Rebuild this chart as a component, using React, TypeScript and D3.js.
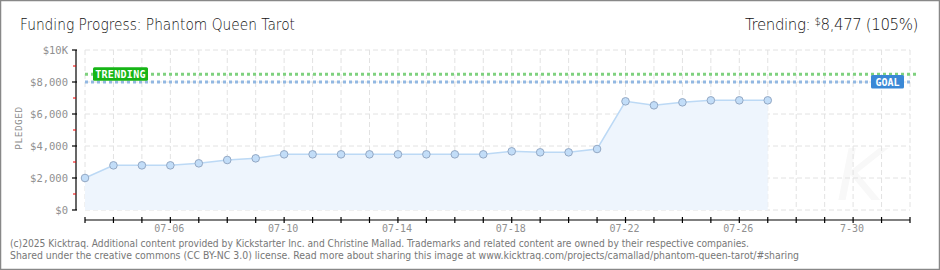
import React from "react";
import * as d3 from "d3";

const dates = ["2025-07-03","2025-07-04","2025-07-05","2025-07-06","2025-07-07","2025-07-08","2025-07-09","2025-07-10","2025-07-11","2025-07-12","2025-07-13","2025-07-14","2025-07-15","2025-07-16","2025-07-17","2025-07-18","2025-07-19","2025-07-20","2025-07-21","2025-07-22","2025-07-23","2025-07-24","2025-07-25","2025-07-26","2025-07-27"];
const pledged = [2000,2790,2790,2790,2917,3125,3229,3479,3479,3479,3479,3479,3479,3479,3479,3667,3604,3604,3812,6792,6542,6729,6854,6854,6854];
const goal = 8000;
const trending = 8477;
const yTicks = [0,2000,4000,6000,8000,10000];
const yTickLabels = ["$0","$2,000","$4,000","$6,000","$8,000","$10K"];
const xLabelDates = ["2025-07-06","2025-07-10","2025-07-14","2025-07-18","2025-07-22","2025-07-26","2025-07-30"];
const xLabels = ["07-06","07-10","07-14","07-18","07-22","07-26","7-30"];
const domainStart = "2025-07-03";
const domainEnd = "2025-08-01";
const title = "Funding Progress: Phantom Queen Tarot";
const footer1 = "(c)2025 Kicktraq. Additional content provided by Kickstarter Inc. and Christine Mallad. Trademarks and related content are owned by their respective companies.";
const footer2 = "Shared under the creative commons (CC BY-NC 3.0) license. Read more about sharing this image at www.kicktraq.com/projects/camallad/phantom-queen-tarot/#sharing";

const pd = (s: string) => new Date(s + "T00:00:00Z");

export default function App() {
  const W = 940, H = 270;
  const x = d3.scaleUtc().domain([pd(domainStart), pd(domainEnd)]).range([85, 910]);
  const y = d3.scaleLinear().domain([0, 10000]).range([210, 50]);
  const data = dates.map((d, i) => ({ d: pd(d), v: pledged[i] }));
  const line = d3.line<any>().x(p => x(p.d)).y(p => y(p.v));
  const area = d3.area<any>().x(p => x(p.d)).y0(y(0)).y1(p => y(p.v));
  const days = d3.utcDay.range(pd(domainStart), d3.utcDay.offset(pd(domainEnd), 1));
  const minor = d3.range(1000, 10000, 2000);
  const mono = "'DejaVu Sans Mono', monospace";
  const thin = "'DejaVu Sans', sans-serif";
  const x0 = 85, x1 = 910;

  return (
    <div style={{ position: "absolute", left: 0, top: 0 }}>
      <svg width={W} height={H} style={{ display: "block", background: "#fff" }}>
        <rect x={0.5} y={0.5} width={W - 1} height={H - 1} fill="#fff" stroke="#888" strokeWidth={1.5} />
        {/* watermark */}
        <text x={860} y={200} fontSize={72} fontStyle="italic" fontWeight={200} fill="#f8f8f8" fontFamily={thin} textAnchor="middle">K</text>
        {/* grid */}
        {days.map((d, i) => (
          <line key={"vg" + i} x1={x(d)} x2={x(d)} y1={50} y2={210} stroke="#e2e2e2" strokeDasharray="5,3" />
        ))}
        {yTicks.map((t, i) => (
          <line key={"hg" + i} x1={x0} x2={x1} y1={y(t)} y2={y(t)} stroke="#e2e2e2" strokeDasharray="5,3" />
        ))}
        {/* area + line */}
        <path d={area(data) || ""} fill="#eef5fd" />
        <path d={line(data) || ""} fill="none" stroke="#bcd9f5" strokeWidth={1.5} />
        {/* trending / goal lines */}
        <line x1={x0} x2={x1 + 8} y1={y(trending)} y2={y(trending)} stroke="#7fd17f" strokeWidth={3} strokeDasharray="3,3" />
        <line x1={x0} x2={x1} y1={y(goal)} y2={y(goal)} stroke="#92b8e2" strokeWidth={3} strokeDasharray="3,3" />
        {/* points */}
        {data.map((p, i) => (
          <circle key={"pt" + i} cx={x(p.d)} cy={y(p.v)} r={3.8} fill="#c2ddf8" stroke="#93a8c4" strokeWidth={1} />
        ))}
        {/* labels */}
        <rect x={93} y={y(trending) - 7} width={55} height={13.5} rx={1.5} fill="#16b516" />
        <text x={120.5} y={y(trending) + 3.5} fontSize={10} fontFamily={mono} fontWeight="bold" fill="#fff" textAnchor="middle" letterSpacing={0.3}>TRENDING</text>
        <rect x={871} y={y(goal) - 7} width={33} height={13.5} rx={1.5} fill="#3a88d6" />
        <text x={887.5} y={y(goal) + 3.5} fontSize={10} fontFamily={mono} fontWeight="bold" fill="#fff" textAnchor="middle">GOAL</text>
        {/* y axis */}
        <line x1={76} x2={76} y1={50} y2={210} stroke="#000" strokeWidth={1.2} />
        {yTicks.map((t, i) => (
          <g key={"yt" + i}>
            <line x1={72} x2={77} y1={y(t)} y2={y(t)} stroke="#000" strokeWidth={1.2} />
            <text x={68} y={y(t) + 3.5} fontSize={10.5} fontFamily={mono} fill="#909090" textAnchor="end">{yTickLabels[i]}</text>
          </g>
        ))}
        {minor.map((t, i) => (
          <line key={"ym" + i} x1={73} x2={76} y1={y(t)} y2={y(t)} stroke="#e00" strokeWidth={1} />
        ))}
        <text transform={`translate(22,${y(5000) - 2}) rotate(-90)`} fontSize={9.5} fontFamily={mono} fill="#888" textAnchor="middle" letterSpacing={0.5}>PLEDGED</text>
        {/* x axis */}
        <line x1={x0} x2={x1} y1={220} y2={220} stroke="#000" strokeWidth={1.2} />
        {days.map((d, i) => (
          <line key={"xt" + i} x1={x(d)} x2={x(d)} y1={217} y2={223} stroke="#000" strokeWidth={1.2} />
        ))}
        {xLabelDates.map((d, i) => (
          <text key={"xl" + i} x={x(pd(d)) - 1} y={232} fontSize={10} fontFamily={mono} fill="#909090" textAnchor="middle">{xLabels[i]}</text>
        ))}
        {/* title */}
        <text x={20} y={30} fontSize={16} fontWeight={200} fontFamily={thin} fill="#111" textLength={275} lengthAdjust="spacingAndGlyphs">{title}</text>
        <text x={918} y={30} fontSize={15} fontWeight={200} fontFamily={thin} fill="#111" textAnchor="end" letterSpacing={-0.4}>
          Trending: <tspan fontSize={10} dy={-5}>$</tspan><tspan dy={5}>8,477 (105%)</tspan>
        </text>
        {/* footer */}
        <text x={10} y={247} fontSize={10} fontFamily="'DejaVu Sans', Verdana, sans-serif" fill="#777" textLength={739} lengthAdjust="spacingAndGlyphs">{footer1}</text>
        <text x={10} y={259} fontSize={10} fontFamily="'DejaVu Sans', Verdana, sans-serif" fill="#777" textLength={789} lengthAdjust="spacingAndGlyphs">{footer2}</text>
      </svg>
    </div>
  );
}
